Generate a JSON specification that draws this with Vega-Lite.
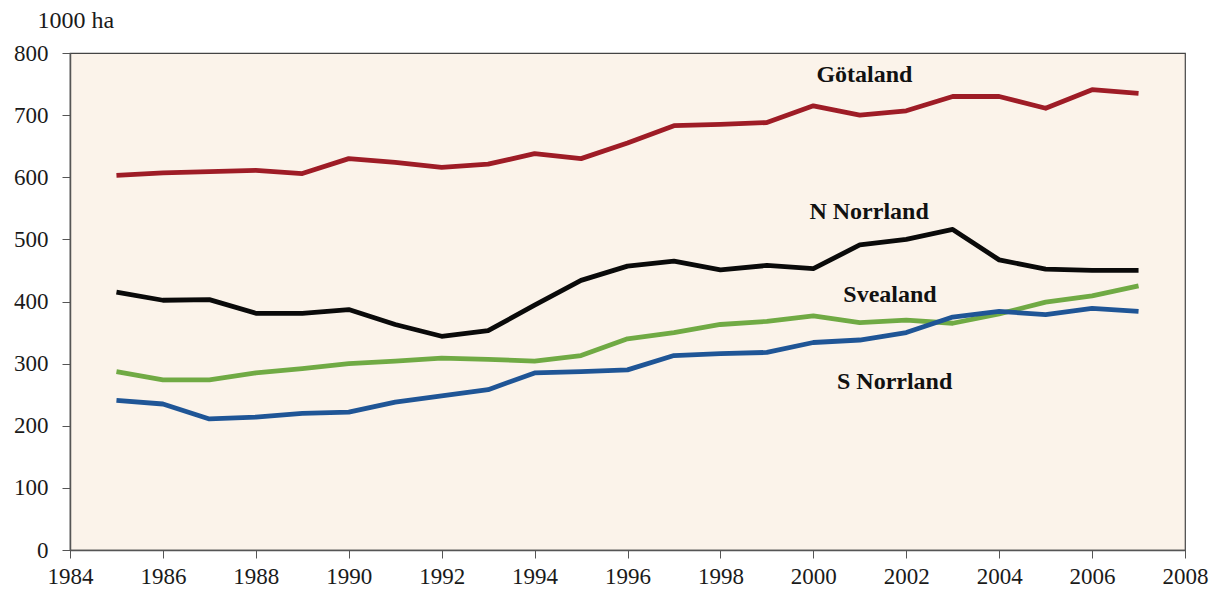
{
  "$schema": "https://vega.github.io/schema/vega-lite/v6.json",
  "width": 1115,
  "height": 497,
  "autosize": {"type": "none"},
  "padding": {"left": 70, "top": 53, "right": 34, "bottom": 42},
  "background": "#ffffff",
  "config": {
    "view": {"fill": "#FBF3EA", "stroke": "#444444", "strokeWidth": 1.2},
    "font": "Liberation Serif",
    "axis": {
      "labelFont": "Liberation Serif",
      "labelFontSize": 23,
      "labelColor": "#1a1a1a",
      "titleFont": "Liberation Serif",
      "domainColor": "#555555",
      "domainWidth": 1.5,
      "tickColor": "#555555",
      "tickSize": 8,
      "grid": false
    }
  },
  "datasets": {
    "series": [
      {"year": 1985, "region": "Götaland", "ha": 603}, {"year": 1986, "region": "Götaland", "ha": 607}, {"year": 1987, "region": "Götaland", "ha": 609}, {"year": 1988, "region": "Götaland", "ha": 611}, {"year": 1989, "region": "Götaland", "ha": 606}, {"year": 1990, "region": "Götaland", "ha": 630}, {"year": 1991, "region": "Götaland", "ha": 624}, {"year": 1992, "region": "Götaland", "ha": 616}, {"year": 1993, "region": "Götaland", "ha": 621}, {"year": 1994, "region": "Götaland", "ha": 638}, {"year": 1995, "region": "Götaland", "ha": 630}, {"year": 1996, "region": "Götaland", "ha": 655}, {"year": 1997, "region": "Götaland", "ha": 683}, {"year": 1998, "region": "Götaland", "ha": 685}, {"year": 1999, "region": "Götaland", "ha": 688}, {"year": 2000, "region": "Götaland", "ha": 715}, {"year": 2001, "region": "Götaland", "ha": 700}, {"year": 2002, "region": "Götaland", "ha": 707}, {"year": 2003, "region": "Götaland", "ha": 730}, {"year": 2004, "region": "Götaland", "ha": 730}, {"year": 2005, "region": "Götaland", "ha": 711}, {"year": 2006, "region": "Götaland", "ha": 741}, {"year": 2007, "region": "Götaland", "ha": 735},
      {"year": 1985, "region": "N Norrland", "ha": 415}, {"year": 1986, "region": "N Norrland", "ha": 402}, {"year": 1987, "region": "N Norrland", "ha": 403}, {"year": 1988, "region": "N Norrland", "ha": 381}, {"year": 1989, "region": "N Norrland", "ha": 381}, {"year": 1990, "region": "N Norrland", "ha": 387}, {"year": 1991, "region": "N Norrland", "ha": 363}, {"year": 1992, "region": "N Norrland", "ha": 344}, {"year": 1993, "region": "N Norrland", "ha": 353}, {"year": 1994, "region": "N Norrland", "ha": 394}, {"year": 1995, "region": "N Norrland", "ha": 434}, {"year": 1996, "region": "N Norrland", "ha": 457}, {"year": 1997, "region": "N Norrland", "ha": 465}, {"year": 1998, "region": "N Norrland", "ha": 451}, {"year": 1999, "region": "N Norrland", "ha": 458}, {"year": 2000, "region": "N Norrland", "ha": 453}, {"year": 2001, "region": "N Norrland", "ha": 491}, {"year": 2002, "region": "N Norrland", "ha": 500}, {"year": 2003, "region": "N Norrland", "ha": 516}, {"year": 2004, "region": "N Norrland", "ha": 467}, {"year": 2005, "region": "N Norrland", "ha": 452}, {"year": 2006, "region": "N Norrland", "ha": 450}, {"year": 2007, "region": "N Norrland", "ha": 450},
      {"year": 1985, "region": "Svealand", "ha": 287}, {"year": 1986, "region": "Svealand", "ha": 274}, {"year": 1987, "region": "Svealand", "ha": 274}, {"year": 1988, "region": "Svealand", "ha": 285}, {"year": 1989, "region": "Svealand", "ha": 292}, {"year": 1990, "region": "Svealand", "ha": 300}, {"year": 1991, "region": "Svealand", "ha": 304}, {"year": 1992, "region": "Svealand", "ha": 309}, {"year": 1993, "region": "Svealand", "ha": 307}, {"year": 1994, "region": "Svealand", "ha": 304}, {"year": 1995, "region": "Svealand", "ha": 313}, {"year": 1996, "region": "Svealand", "ha": 340}, {"year": 1997, "region": "Svealand", "ha": 350}, {"year": 1998, "region": "Svealand", "ha": 363}, {"year": 1999, "region": "Svealand", "ha": 368}, {"year": 2000, "region": "Svealand", "ha": 377}, {"year": 2001, "region": "Svealand", "ha": 366}, {"year": 2002, "region": "Svealand", "ha": 370}, {"year": 2003, "region": "Svealand", "ha": 365}, {"year": 2004, "region": "Svealand", "ha": 380}, {"year": 2005, "region": "Svealand", "ha": 399}, {"year": 2006, "region": "Svealand", "ha": 409}, {"year": 2007, "region": "Svealand", "ha": 425},
      {"year": 1985, "region": "S Norrland", "ha": 241}, {"year": 1986, "region": "S Norrland", "ha": 235}, {"year": 1987, "region": "S Norrland", "ha": 211}, {"year": 1988, "region": "S Norrland", "ha": 214}, {"year": 1989, "region": "S Norrland", "ha": 220}, {"year": 1990, "region": "S Norrland", "ha": 222}, {"year": 1991, "region": "S Norrland", "ha": 238}, {"year": 1992, "region": "S Norrland", "ha": 248}, {"year": 1993, "region": "S Norrland", "ha": 258}, {"year": 1994, "region": "S Norrland", "ha": 285}, {"year": 1995, "region": "S Norrland", "ha": 287}, {"year": 1996, "region": "S Norrland", "ha": 290}, {"year": 1997, "region": "S Norrland", "ha": 313}, {"year": 1998, "region": "S Norrland", "ha": 316}, {"year": 1999, "region": "S Norrland", "ha": 318}, {"year": 2000, "region": "S Norrland", "ha": 334}, {"year": 2001, "region": "S Norrland", "ha": 338}, {"year": 2002, "region": "S Norrland", "ha": 350}, {"year": 2003, "region": "S Norrland", "ha": 375}, {"year": 2004, "region": "S Norrland", "ha": 384}, {"year": 2005, "region": "S Norrland", "ha": 379}, {"year": 2006, "region": "S Norrland", "ha": 389}, {"year": 2007, "region": "S Norrland", "ha": 384}
    ],
    "labels": [
      {"region": "Götaland", "year": 2001.1, "ha": 764},
      {"region": "N Norrland", "year": 2001.2, "ha": 544},
      {"region": "Svealand", "year": 2001.65, "ha": 410},
      {"region": "S Norrland", "year": 2001.75, "ha": 271}
    ]
  },
  "layer": [
    {
      "data": {"name": "series"},
      "mark": {"type": "line", "strokeWidth": 4.8, "strokeJoin": "round", "strokeCap": "butt"},
      "encoding": {
        "x": {"field": "year", "type": "quantitative", "scale": {"domain": [1984, 2008], "nice": false, "zero": false},
              "axis": {"values": [1984,1986,1988,1990,1992,1994,1996,1998,2000,2002,2004,2006,2008], "format": "d", "title": null, "labelPadding": 7, "labelFlush": false}},
        "y": {"field": "ha", "type": "quantitative", "scale": {"domain": [0, 800], "nice": false},
              "axis": {"values": [0,100,200,300,400,500,600,700,800], "title": "1000 ha", "titleAngle": 0, "titleAlign": "left", "titleBaseline": "middle", "titleX": -33, "titleY": -33, "titleFontSize": 24, "titleFontWeight": "normal", "titleColor": "#1a1a1a", "labelPadding": 14}},
        "color": {"field": "region", "type": "nominal", "legend": null,
                  "scale": {"domain": ["Götaland", "N Norrland", "Svealand", "S Norrland"], "range": ["#9E1C26", "#0a0a0a", "#70AA44", "#1F5596"]}},
        "detail": {"field": "region"}
      }
    },
    {
      "data": {"name": "labels"},
      "mark": {"type": "text", "font": "Liberation Serif", "fontWeight": "bold", "fontSize": 24, "align": "center", "baseline": "middle", "color": "#111111"},
      "encoding": {
        "x": {"field": "year", "type": "quantitative"},
        "y": {"field": "ha", "type": "quantitative"},
        "text": {"field": "region"}
      }
    }
  ]
}
